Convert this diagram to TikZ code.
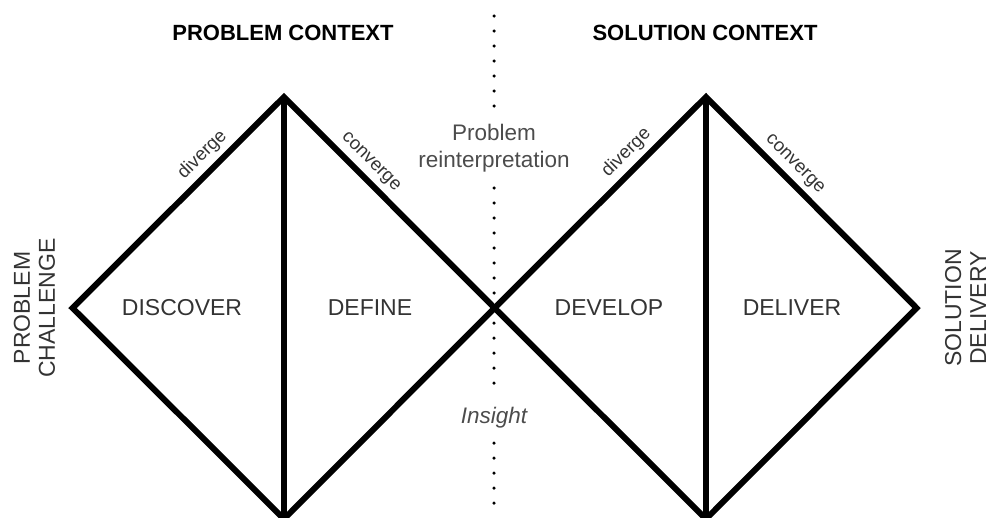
\documentclass[tikz,border=0pt]{standalone}
\usepackage{fontspec}
\setmainfont{Liberation Sans}

\begin{document}
\begin{tikzpicture}[x=1pt, y=-1pt,
    edge/.style={line width=6pt, line join=miter},
    stage/.style={font=\fontsize{23}{27}\selectfont, text=black!80},
    context/.style={font=\bfseries\fontsize{22}{26}\selectfont},
    side/.style={font=\fontsize{23}{25}\selectfont, text=black!80, rotate=90, align=center},
    move/.style={font=\fontsize{18.5}{20}\selectfont, text=black!80, sloped, above=4pt, inner sep=1pt},
    note/.style={font=\fontsize{22.5}{27}\selectfont, text=black!70, align=center},
    dots/.style={line width=3.5pt, line cap=round, dash pattern=on 0pt off 15pt}]

    \useasboundingbox (0,0) rectangle (991,517);

    % 頂点
    \coordinate (L1) at (72.5, 308);
    \coordinate (T1) at (284, 97);
    \coordinate (B1) at (284, 519);
    \coordinate (C) at (494.5, 308);
    \coordinate (T2) at (706, 97);
    \coordinate (B2) at (706, 519);
    \coordinate (R2) at (916.5, 308);

    % 点線の端
    \coordinate (d1) at (494, 16);
    \coordinate (d2) at (494, 107);
    \coordinate (d3) at (494, 188);
    \coordinate (d4) at (494, 384);
    \coordinate (d5) at (494, 443);
    \coordinate (d6) at (494, 504);

    % 点線を引く
    \draw[dots] (d1) -- (d2);
    \draw[dots] (d3) -- (d4);
    \draw[dots] (d5) -- (d6);

    % ひし形を描く
    \draw[edge] (L1) -- node[move, pos=0.67] {diverge} (T1)
        -- node[move, pos=0.36] {converge} (C) -- (B1) -- cycle;
    \draw[edge] (T1) -- (B1);
    \draw[edge] (C) -- node[move, pos=0.68] {diverge} (T2)
        -- node[move, pos=0.37] {converge} (R2) -- (B2) -- cycle;
    \draw[edge] (T2) -- (B2);

    % 文字を入れる
    \node[context] (pc) at (283, 33) {PROBLEM CONTEXT};
    \node[context] (sc) at (705, 33) {SOLUTION CONTEXT};
    \node[side] (start) at (34.5, 308) {PROBLEM\\CHALLENGE};
    \node[side] (finish) at (965.5, 308) {SOLUTION\\DELIVERY};
    \node[stage] (discover) at (182, 308) {DISCOVER};
    \node[stage] (define) at (370, 308) {DEFINE};
    \node[stage] (develop) at (609, 308) {DEVELOP};
    \node[stage] (deliver) at (792, 308) {DELIVER};
    \node[note] (reint) at (494, 148.5) {Problem\\reinterpretation};
    \node[note, font=\itshape\fontsize{22.5}{27}\selectfont] (insight) at (494, 418) {Insight};
\end{tikzpicture}
\end{document}
